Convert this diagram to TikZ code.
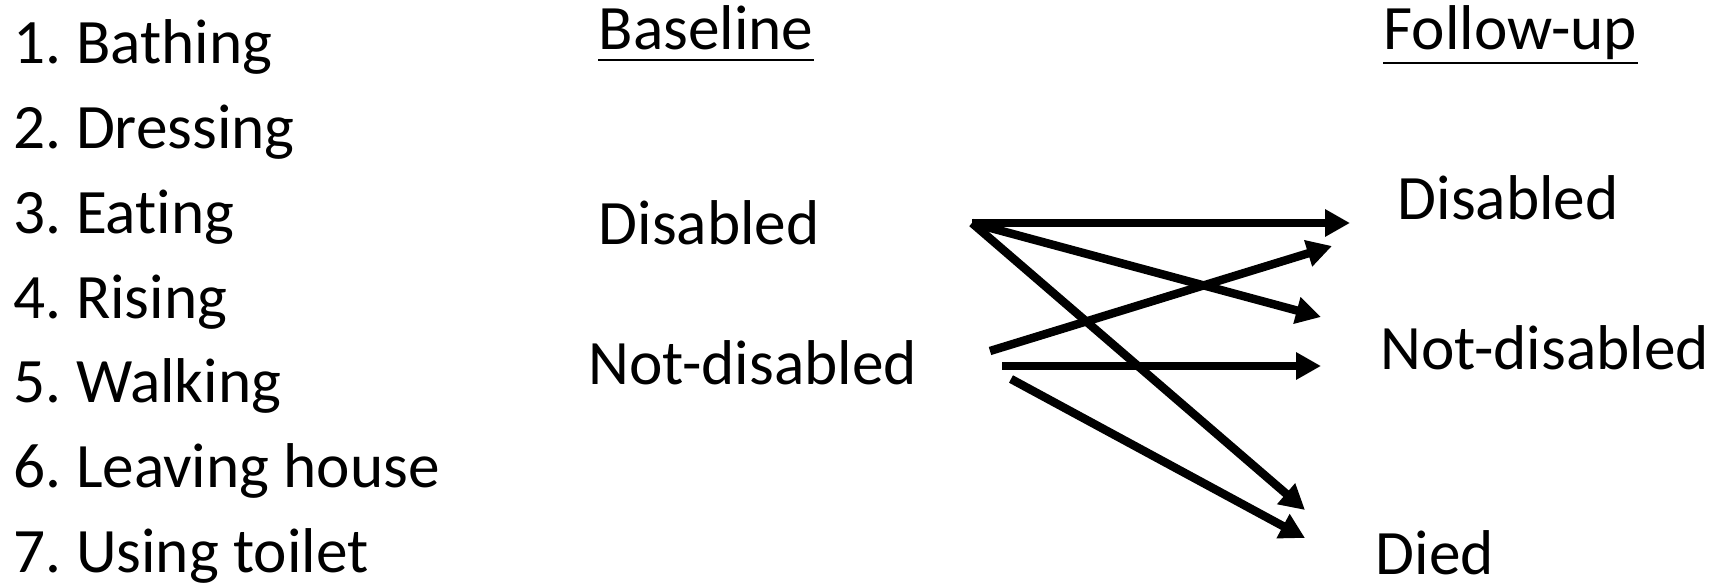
\documentclass[tikz,border=0pt]{standalone}
\usepackage{fontspec}
\setmainfont{Carlito}[Ligatures=NoCommon]
\usetikzlibrary{arrows.meta}
\frenchspacing

\begin{document}
\begin{tikzpicture}[
    lbl/.style={anchor=base west, inner sep=0pt, font=\fontsize{18pt}{21pt}\selectfont},
    flow/.style={-{Triangle[length=2.5mm,width=2.6mm]}, line width=2.4pt},
    uline/.style={line width=0.85pt}]
  \useasboundingbox (0,0) rectangle (17.29,5.83);
  % activities of daily living
  \foreach \i/\t in {1/Bathing,2/Dressing,3/Eating,4/Rising,5/Walking,6/Leaving house,7/Using toilet}
    \node[lbl] (act\i) at (0.13,{5.19-0.8467*(\i-1)}) {\i. \t};
  % column heads
  \node[lbl] (base) at (5.98,5.33) {Baseline};
  \node[lbl] (follow) at (13.83,5.33) {Follow-up};
  \draw[uline] ([yshift=-0.10cm]base.base west) -- ([yshift=-0.10cm]base.base east);
  \draw[uline] ([yshift=-0.13cm]follow.base west) -- ([yshift=-0.13cm]follow.base east);
  % states
  \node[lbl] (bdis) at (5.98,3.38) {Disabled};
  \node[lbl] (bnot) at (5.88,1.98) {Not-disabled};
  \node[lbl] (fdis) at (13.97,3.63) {Disabled};
  \node[lbl] (fnot) at (13.80,2.13) {Not-disabled};
  \node[lbl] (fdied) at (13.75,0.08) {Died};
  % arrow ends
  \coordinate (dis-out) at (9.72,3.60);
  \coordinate (not-out1) at (9.90,2.32);
  \coordinate (not-out2) at (10.02,2.17);
  \coordinate (not-out3) at (10.11,2.04);
  \coordinate (dis-in1) at (13.50,3.60);
  \coordinate (dis-in2) at (13.32,3.37);
  \coordinate (not-in1) at (13.21,2.66);
  \coordinate (not-in2) at (13.21,2.17);
  \coordinate (died-in1) at (13.05,0.73);
  \coordinate (died-in2) at (13.05,0.45);
  % transitions
  \draw[flow] (dis-out) -- (dis-in1);
  \draw[flow] (dis-out) -- (not-in1);
  \draw[flow] (dis-out) -- (died-in1);
  \draw[flow] (not-out1) -- (dis-in2);
  \draw[flow] (not-out2) -- (not-in2);
  \draw[flow] (not-out3) -- (died-in2);
\end{tikzpicture}
\end{document}
